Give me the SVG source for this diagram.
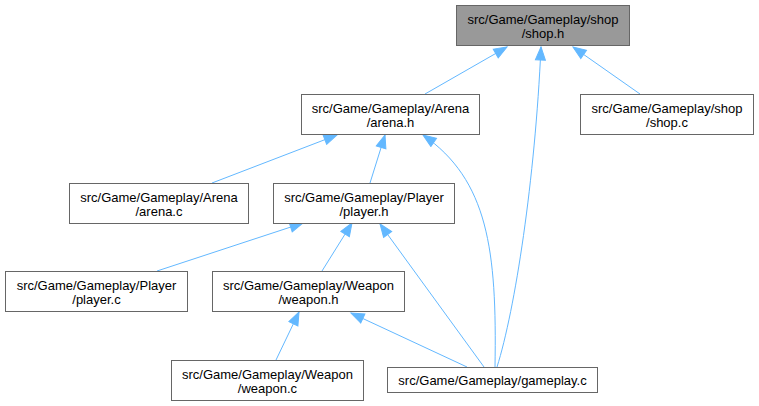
<svg xmlns="http://www.w3.org/2000/svg" width="759" height="406" viewBox="0 0 759 406">
<defs>
<marker id="ah" markerUnits="userSpaceOnUse" markerWidth="16" markerHeight="12" viewBox="0 -6 14 12" refX="13" refY="0" orient="auto">
<path d="M0,-5 L13,0 L0,5 Z" fill="#63b8ff" stroke="#63b8ff" stroke-width="1"/>
</marker>
<style>
.box{fill:#ffffff;stroke:#666666;stroke-width:1}
.root{fill:#999999;stroke:#666666;stroke-width:1}
.lbl{font-family:"Liberation Sans",Arial,sans-serif;font-size:13px;fill:#000000;text-anchor:middle}
.edge{fill:none;stroke:#63b8ff;stroke-width:1;marker-end:url(#ah)}
</style>
</defs>
<rect width="759" height="406" fill="#ffffff"/>
<g id="connectors">
<path class="edge" d="M425,94 L507,47"/>
<path class="edge" d="M640,94 L573,47"/>
<path class="edge" d="M497,367 C515,310 535,180 541,47"/>
<path class="edge" d="M212,183 L337,135"/>
<path class="edge" d="M370,183 L385,135"/>
<path class="edge" d="M495,367 C497,250 488,180 423,135"/>
<path class="edge" d="M157,271 L303,223"/>
<path class="edge" d="M322,271 L352,223"/>
<path class="edge" d="M484,367 L380,224"/>
<path class="edge" d="M276,360 L299,312"/>
<path class="edge" d="M467,367 L351,313"/>
</g>
<g id="shop_h">
<rect class="root" x="456.5" y="5.5" width="173" height="40"/>
<text class="lbl" x="543" y="24">src/Game/Gameplay/shop</text>
<text class="lbl" x="543" y="38">/shop.h</text>
</g>
<g id="shop_c">
<rect class="box" x="580.5" y="94.5" width="173" height="40"/>
<text class="lbl" x="667" y="113">src/Game/Gameplay/shop</text>
<text class="lbl" x="667" y="127">/shop.c</text>
</g>
<g id="arena_h">
<rect class="box" x="301.5" y="94.5" width="178" height="40"/>
<text class="lbl" x="390.5" y="113">src/Game/Gameplay/Arena</text>
<text class="lbl" x="390.5" y="127">/arena.h</text>
</g>
<g id="arena_c">
<rect class="box" x="69.5" y="183.5" width="179" height="40"/>
<text class="lbl" x="159" y="202">src/Game/Gameplay/Arena</text>
<text class="lbl" x="159" y="216">/arena.c</text>
</g>
<g id="player_h">
<rect class="box" x="273.5" y="183.5" width="181" height="40"/>
<text class="lbl" x="364" y="202">src/Game/Gameplay/Player</text>
<text class="lbl" x="364" y="216">/player.h</text>
</g>
<g id="player_c">
<rect class="box" x="5.5" y="271.5" width="182" height="40"/>
<text class="lbl" x="96.5" y="290">src/Game/Gameplay/Player</text>
<text class="lbl" x="96.5" y="304">/player.c</text>
</g>
<g id="weapon_h">
<rect class="box" x="212.5" y="271.5" width="192" height="40"/>
<text class="lbl" x="308.5" y="290">src/Game/Gameplay/Weapon</text>
<text class="lbl" x="308.5" y="304">/weapon.h</text>
</g>
<g id="weapon_c">
<rect class="box" x="171.5" y="360.5" width="192" height="40"/>
<text class="lbl" x="267.5" y="379">src/Game/Gameplay/Weapon</text>
<text class="lbl" x="267.5" y="393">/weapon.c</text>
</g>
<g id="gameplay_c">
<rect class="box" x="387.5" y="367.5" width="210" height="25"/>
<text class="lbl" x="492.5" y="385">src/Game/Gameplay/gameplay.c</text>
</g>
</svg>
